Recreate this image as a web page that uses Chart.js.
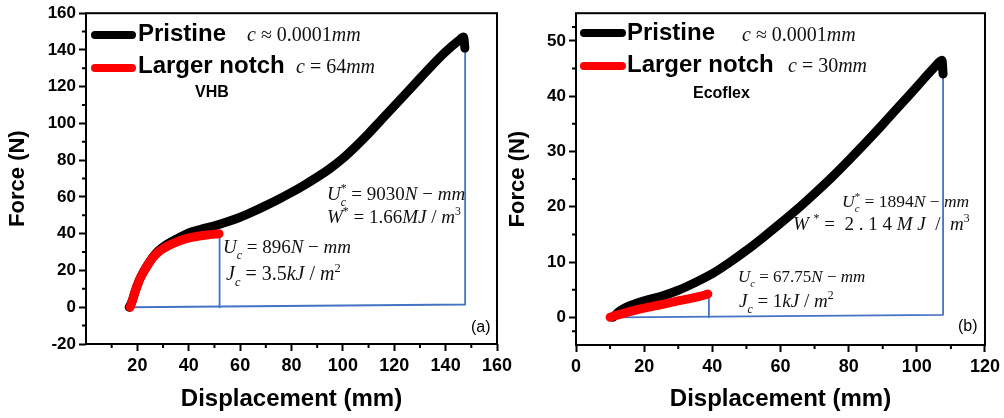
<!DOCTYPE html>
<html>
<head>
<meta charset="utf-8">
<script src="https://cdn.jsdelivr.net/npm/chart.js@4.4.0/dist/chart.umd.min.js"></script>
<style>
    body { margin: 0; background: #fff; }
    #wrap { position: relative; width: 1004px; height: 418px; overflow: hidden; }
    canvas { position: absolute; top: 0; }
</style>
</head>
<body>
<div id="wrap">
    <canvas id="chartA" width="520" height="418" style="left:0"></canvas>
    <canvas id="chartB" width="504" height="418" style="left:500px"></canvas>
</div>
<script>
// ---- (a) VHB ----
const pristineA_x = [16.8, 18, 19, 20, 21, 22.5, 24, 26, 28, 31, 35, 40, 45, 50, 55, 60, 65, 70, 75, 80, 85, 90, 95, 100, 105, 110, 115, 120, 125, 130, 135, 140, 145, 147, 147.5];
const pristineA_y = [0, 3.5, 8, 12, 15.5, 19.5, 23, 27.2, 30.5, 33.8, 37, 40.5, 42.5, 44.3, 46.5, 49, 52, 55.3, 58.8, 62.5, 66.5, 70.8, 75.5, 81, 87.5, 94.5, 102, 109.5, 117, 124.5, 132, 139, 145, 147, 141];
const notchA_x = [17.2, 18, 19, 20, 21, 22.5, 24, 26, 28, 30, 32.5, 35, 39, 43, 47, 51.8];
const notchA_y = [0, 3.5, 8, 12, 15.5, 19.5, 23, 27, 29.8, 31.8, 33.8, 35.3, 37.3, 38.5, 39.3, 40];
const areaA_x = [17.5, 147.6, 147.6];
const areaA_y = [0, 1.5, 141];
const cutA_x = [52, 52];
const cutA_y = [0, 39.8];
const xTicksA = [20, 40, 60, 80, 100, 120, 140, 160];
const yTicksA = [-20, 0, 20, 40, 60, 80, 100, 120, 140, 160];

// ---- (b) Ecoflex ----
const pristineB_x = [10.8, 13, 15, 18, 20, 25, 30, 35, 40, 45, 50, 55, 60, 65, 70, 75, 80, 85, 90, 95, 100, 105, 107.4, 107.7];
const pristineB_y = [0, 1.2, 1.9, 2.6, 3.0, 3.8, 4.9, 6.3, 7.9, 9.9, 12.1, 14.5, 17.0, 19.6, 22.4, 25.3, 28.4, 31.6, 34.9, 38.3, 41.7, 45.1, 46.5, 44];
const notchB_x = [10, 12, 15, 18, 21, 25, 29, 33, 36, 38.7];
const notchB_y = [0, 0.4, 0.9, 1.4, 1.8, 2.3, 2.85, 3.35, 3.75, 4.2];
const areaB_x = [12, 107.7, 107.7];
const areaB_y = [0, 0.45, 44];
const cutB_x = [39, 39];
const cutB_y = [0, 3.6];
const xTicksB = [0, 20, 40, 60, 80, 100, 120];
const yTicksB = [0, 10, 20, 30, 40, 50];

const SANS = '"Liberation Sans", Arial, sans-serif';
const SERIF = '"Liberation Serif", "Times New Roman", serif';
const BLUE = '#4472C4';

function pts(xs, ys) {
    return xs.map((x, i) => ({ x: x, y: ys[i] }));
}

// runs: [text, flags]  flags: i = italic, _ = subscript, ^ = superscript, k = keep x (stack next run)
function mathLine(ctx, x, y, runs, size) {
    let cx = x, held = 0;
    ctx.fillStyle = '#111';
    ctx.textAlign = 'left';
    ctx.textBaseline = 'alphabetic';
    runs.forEach(([t, f = '']) => {
        const small = f.includes('_') || f.includes('^');
        const fs = small ? size * 0.62 : size;
        ctx.font = (f.includes('i') ? 'italic ' : '') + fs + 'px ' + SERIF;
        const dy = f.includes('_') ? size * 0.3 : f.includes('^') ? -size * 0.42 : 0;
        ctx.fillText(t, cx, y + dy);
        const w = ctx.measureText(t).width;
        if (f.includes('k')) { held = w; } else { cx += Math.max(w, held); held = 0; }
    });
}

function legendRow(ctx, x0, x1, y, color, label, lx, ly) {
    ctx.save();
    ctx.strokeStyle = color;
    ctx.lineWidth = 8;
    ctx.lineCap = 'round';
    ctx.beginPath();
    ctx.moveTo(x0, y);
    ctx.lineTo(x1, y);
    ctx.stroke();
    ctx.fillStyle = '#000';
    ctx.font = 'bold 24px ' + SANS;
    ctx.textAlign = 'left';
    ctx.textBaseline = 'alphabetic';
    ctx.fillText(label, lx, ly);
    ctx.restore();
}

// frame around the plot area and short minor ticks between the major ones
const framePlugin = {
    id: 'frame',
    afterDraw(chart) {
        const { ctx, chartArea: a, scales } = chart;
        ctx.save();
        ctx.strokeStyle = '#000';
        ctx.lineWidth = 2;
        ctx.strokeRect(a.left, a.top, a.right - a.left, a.bottom - a.top);
        const minor = (vals) => vals.slice(0, -1).map((v, i) => (v + vals[i + 1]) / 2);
        const xs = scales.x.ticks.map(t => t.value);
        const ys = scales.y.ticks.map(t => t.value);
        ctx.beginPath();
        minor([scales.x.min].concat(xs)).concat(minor(xs)).forEach(v => {
            const px = scales.x.getPixelForValue(v);
            if (px <= a.left + 1) return;
            ctx.moveTo(px, a.bottom);
            ctx.lineTo(px, a.bottom + 4);
        });
        minor([scales.y.min].concat(ys, [scales.y.max])).forEach(v => {
            const py = scales.y.getPixelForValue(v);
            if (py >= a.bottom - 1 || py <= a.top + 1) return;
            ctx.moveTo(a.left, py);
            ctx.lineTo(a.left - 4, py);
        });
        ctx.stroke();
        ctx.restore();
    }
};

function makeChart(id, d, ax, notes) {
    const line = (data, color, width, smooth) => ({
        data: data,
        borderColor: color,
        backgroundColor: color,
        borderWidth: width,
        pointRadius: 0,
        showLine: true,
        borderCapStyle: 'round',
        borderJoinStyle: 'round',
        cubicInterpolationMode: smooth ? 'monotone' : 'default',
        tension: 0
    });
    const tickFont = (sz) => ({ family: SANS, size: sz, weight: 'bold' });
    return new Chart(document.getElementById(id), {
        type: 'scatter',
        data: {
            datasets: [
                line(pts(d.notchX, d.notchY), '#FF0000', 9, true),
                line(pts(d.priX, d.priY), '#000000', 9, true),
                line(pts(d.areaX, d.areaY), BLUE, 1.8, false),
                line(pts(d.cutX, d.cutY), BLUE, 1.8, false)
            ]
        },
        options: {
            responsive: false,
            animation: false,
            layout: { padding: { top: 13, right: ax.padRight, left: 0, bottom: 0 } },
            plugins: { legend: { display: false }, tooltip: { enabled: false } },
            scales: {
                x: {
                    type: 'linear',
                    min: ax.xMin, max: ax.xMax,
                    afterBuildTicks: s => { s.ticks = ax.xTicks.map(v => ({ value: v })); },
                    afterFit: s => { s.height = ax.xBox; },
                    grid: { drawOnChartArea: false, drawTicks: true, tickLength: 7, tickColor: '#000', tickWidth: 2 },
                    border: { display: false },
                    ticks: { color: '#000', font: tickFont(18), padding: 4, maxRotation: 0, autoSkip: false },
                    title: { display: true, text: 'Displacement (mm)', color: '#000', font: { family: SANS, size: 24, weight: 'bold' }, padding: { top: 0, bottom: 4 } }
                },
                y: {
                    type: 'linear',
                    min: ax.yMin, max: ax.yMax,
                    afterBuildTicks: s => { s.ticks = ax.yTicks.map(v => ({ value: v })); },
                    afterFit: s => { s.width = ax.yBox; },
                    grid: { drawOnChartArea: false, drawTicks: true, tickLength: 7, tickColor: '#000', tickWidth: 2 },
                    border: { display: false },
                    ticks: { color: '#000', font: tickFont(17), padding: 3, autoSkip: false },
                    title: { display: true, text: 'Force (N)', color: '#000', font: { family: SANS, size: 22, weight: 'bold' }, padding: { top: 5, bottom: 0 } }
                }
            }
        },
        plugins: [framePlugin, { id: 'notes', afterDraw: notes }]
    });
}

makeChart('chartA',
    { priX: pristineA_x, priY: pristineA_y, notchX: notchA_x, notchY: notchA_y, areaX: areaA_x, areaY: areaA_y, cutX: cutA_x, cutY: cutA_y },
    { xMin: 0, xMax: 160, yMin: -20, yMax: 160, xTicks: xTicksA, yTicks: yTicksA, xBox: 74, yBox: 86, padRight: 23 },
    chart => {
        const ctx = chart.ctx;
        ctx.save();
        legendRow(ctx, 95, 132, 35, '#000', 'Pristine', 138, 41);
        legendRow(ctx, 95, 132, 68, '#FF0000', 'Larger notch', 138, 73);
        mathLine(ctx, 247, 41, [['c', 'i'], [' \u2248 0.0001'], ['mm', 'i']], 20);
        mathLine(ctx, 296, 73, [['c', 'i'], [' = 64'], ['mm', 'i']], 20);
        ctx.fillStyle = '#000';
        ctx.font = 'bold 16px ' + SANS;
        ctx.fillText('VHB', 195, 97);
        mathLine(ctx, 327, 200, [['U', 'i'], ['c', 'i_k'], ['*', '^'], [' = 9030'], ['N', 'i'], [' \u2212 '], ['mm', 'i']], 19);
        mathLine(ctx, 327, 223, [['W', 'i'], ['*', '^'], [' = 1.66'], ['MJ', 'i'], [' / '], ['m', 'i'], ['3', '^']], 19);
        mathLine(ctx, 223, 253, [['U', 'i'], ['c', 'i_'], [' = 896'], ['N', 'i'], [' \u2212 '], ['mm', 'i']], 19);
        mathLine(ctx, 226, 280, [['J', 'i'], ['c', 'i_'], [' = 3.5'], ['kJ', 'i'], [' / '], ['m', 'i'], ['2', '^']], 20);
        ctx.fillStyle = '#000';
        ctx.font = '16px ' + SANS;
        ctx.textBaseline = 'middle';
        ctx.fillText('(a)', 471, 328);
        ctx.restore();
    }
);

makeChart('chartB',
    { priX: pristineB_x, priY: pristineB_y, notchX: notchB_x, notchY: notchB_y, areaX: areaB_x, areaY: areaB_y, cutX: cutB_x, cutY: cutB_y },
    { xMin: 0, xMax: 120, yMin: -5, yMax: 55, xTicks: xTicksB, yTicks: yTicksB, xBox: 73, yBox: 76, padRight: 19 },
    chart => {
        const ctx = chart.ctx;
        ctx.save();
        legendRow(ctx, 84, 122, 33, '#000', 'Pristine', 127, 40);
        legendRow(ctx, 84, 122, 66, '#FF0000', 'Larger notch', 127, 72);
        mathLine(ctx, 242, 41, [['c', 'i'], [' \u2248 0.0001'], ['mm', 'i']], 20);
        mathLine(ctx, 288, 72, [['c', 'i'], [' = 30'], ['mm', 'i']], 20);
        ctx.fillStyle = '#000';
        ctx.font = 'bold 16px ' + SANS;
        ctx.fillText('Ecoflex', 193, 98);
        mathLine(ctx, 342, 207, [['U', 'i'], ['c', 'i_k'], ['*', '^'], [' = 1894'], ['N', 'i'], [' \u2212 '], ['mm', 'i']], 17.5);
        mathLine(ctx, 293, 230, [['W', 'i'], [' '], ['*', '^'], [' =  2 . 1 4 '], ['M J', 'i'], ['  /  '], ['m', 'i'], ['3', '^']], 19);
        mathLine(ctx, 238, 282, [['U', 'i'], ['c', 'i_'], [' = 67.75'], ['N', 'i'], [' \u2212 '], ['mm', 'i']], 17);
        mathLine(ctx, 239, 307, [['J', 'i'], ['c', 'i_'], [' = 1'], ['kJ', 'i'], [' / '], ['m', 'i'], ['2', '^']], 19);
        ctx.fillStyle = '#000';
        ctx.font = '16px ' + SANS;
        ctx.textBaseline = 'middle';
        ctx.fillText('(b)', 458, 327);
        ctx.restore();
    }
);
</script>
</body>
</html>
